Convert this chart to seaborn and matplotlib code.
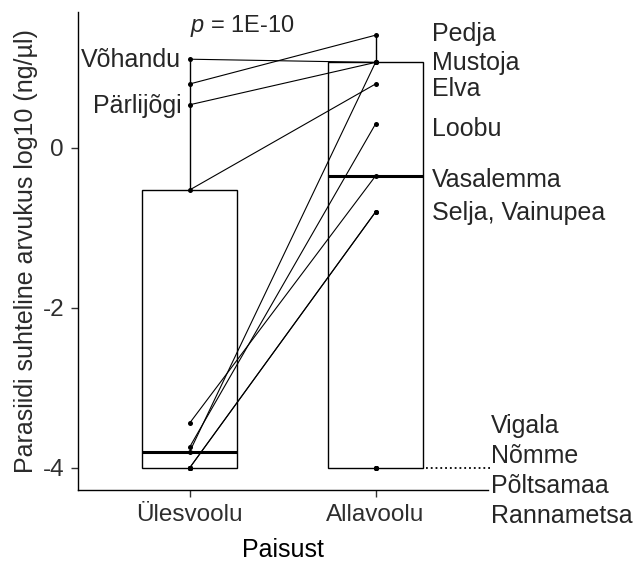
import matplotlib
matplotlib.use("Agg")
import matplotlib.pyplot as plt
import seaborn as sns
import pandas as pd

# ---- data ----
groups = ["Ülesvoolu", "Allavoolu"]
rivers = ["Pedja", "Mustoja", "Elva", "Loobu", "Vasalemma", "Selja", "Vainupea",
          "Vigala", "Nõmme", "Põltsamaa", "Rannametsa", "Võhandu", "Pärlijõgi"]
upstream = [0.80, -3.80, -0.525, -3.74, -3.44, -4.0, -4.0,
            -4.0, -4.0, -4.0, -4.0, 1.11, 0.54]
downstream = [1.41, 1.07, 0.80, 0.30, -0.35, -0.80, -0.80,
              -4.0, -4.0, -4.0, -4.0, 1.07, 1.07]
yticks = [0, -2, -4]
ytick_labels = ["0", "-2", "-4"]
p_text = "= 1E-10"

# label texts (right / left)
right_top_labels = ["Pedja", "Mustoja", "Elva", "Loobu", "Vasalemma", "Selja, Vainupea"]
right_bottom_labels = ["Vigala", "Nõmme", "Põltsamaa", "Rannametsa"]
left_labels = ["Võhandu", "Pärlijõgi"]

# ---- layout (positions of the labels, baseline y in data units) ----
right_top_y = [1.34, 0.975, 0.65, 0.15, -0.49, -0.90]
right_bottom_y = [-3.56, -3.94, -4.31, -4.69]
left_y = [1.01, 0.44]

df = pd.DataFrame({
    "river": rivers * 2,
    "Paisust": [groups[0]] * len(rivers) + [groups[1]] * len(rivers),
    "value": upstream + downstream,
})

sns.set_theme(style="ticks")
plt.rcParams["font.family"] = ["Liberation Sans", "DejaVu Sans"]
plt.rcParams["axes.unicode_minus"] = False
plt.rcParams["mathtext.fontset"] = "custom"
plt.rcParams["mathtext.it"] = "Liberation Sans:italic"
plt.rcParams["mathtext.rm"] = "Liberation Sans"

W, H = 639, 565
fig = plt.figure(figsize=(W / 100, H / 100), dpi=100)
ax = fig.add_axes([78 / W, 75 / H, 410 / W, 478 / H])

sns.boxplot(data=df, x="Paisust", y="value", order=groups, width=0.51,
            color="white", linecolor="black", linewidth=1.0,
            showcaps=False, showfliers=False, whis=1.5,
            medianprops={"linewidth": 2.2}, ax=ax)

# paired lines
for r, u, d in zip(rivers, upstream, downstream):
    if u != d:
        ax.plot([0, 1], [u, d], color="black", lw=0.8, zorder=3)

sns.stripplot(data=df, x="Paisust", y="value", order=groups, jitter=False,
              color="black", size=3.6, linewidth=0, zorder=4, ax=ax)

ax.set_xlim(-0.6, 1.605)
ax.set_ylim(-4.275, 1.70)
ax.set_yticks(yticks)
ax.set_yticklabels(ytick_labels)
sns.despine(ax=ax)
for s in ["left", "bottom"]:
    ax.spines[s].set_linewidth(1.0)
    ax.spines[s].set_color("black")
ax.tick_params(axis="both", labelsize=17.5, colors="#333333", length=5, width=1,
               pad=5, labelcolor="#2e2e2e")
ax.set_xlabel("Paisust", fontsize=18, color="black", labelpad=9)
ax.set_ylabel("Parasiidi suhteline arvukus log10 (ng/µl)", fontsize=18,
              color="#2a2a2a", labelpad=3)

# p-value
ax.text(0.0, 1.45, r"$\it{p}$ " + p_text, fontsize=17, ha="left", va="baseline")

# labels
for t, y in zip(right_top_labels, right_top_y):
    ax.text(1.305, y, t, fontsize=18, ha="left", va="baseline", clip_on=False)
for t, y in zip(right_bottom_labels, right_bottom_y):
    ax.text(1.62, y, t, fontsize=18, ha="left", va="baseline", clip_on=False)
for t, y in zip(left_labels, left_y):
    ax.text(-0.045, y, t, fontsize=18, ha="right", va="baseline", clip_on=False)

# dotted guide at the floor value
ax.plot([1.27, 1.615], [downstream[7], downstream[7]], ls=":", color="black",
        lw=1.3, clip_on=False)

fig.savefig("out.png", dpi=100)
